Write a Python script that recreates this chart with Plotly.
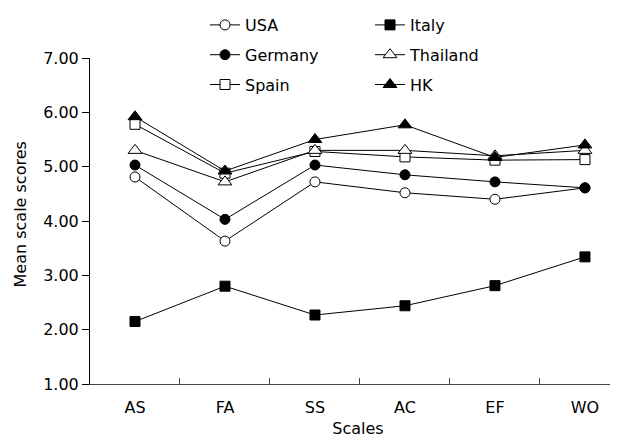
import plotly.graph_objects as go

scales = ["AS", "FA", "SS", "AC", "EF", "WO"]
usa = [4.81, 3.63, 4.72, 4.52, 4.40, 4.61]
germany = [5.03, 4.03, 5.03, 4.85, 4.72, 4.61]
spain = [5.78, 4.88, 5.28, 5.18, 5.12, 5.13]
italy = [2.15, 2.80, 2.27, 2.44, 2.81, 3.34]
thailand = [5.30, 4.72, 5.30, 5.30, 5.20, 5.30]
hk = [5.92, 4.92, 5.50, 5.77, 5.17, 5.40]

y_ticks = [1, 2, 3, 4, 5, 6, 7]
y_tick_text = ["1.00", "2.00", "3.00", "4.00", "5.00", "6.00", "7.00"]

FONT = "DejaVu Sans"
FS = 16

series = [
    ("USA", usa, "circle", "white", "legend", 10),
    ("Germany", germany, "circle", "black", "legend", 10),
    ("Spain", spain, "square", "white", "legend", 10),
    ("Italy", italy, "square", "black", "legend2", 10),
    ("Thailand", thailand, "triangle-up", "white", "legend2", 12),
    ("HK", hk, "triangle-up", "black", "legend2", 12),
]

fig = go.Figure()
for name, vals, sym, fill, leg, size in series:
    fig.add_trace(go.Scatter(
        x=scales, y=vals, name=name, mode="lines+markers",
        line=dict(color="black", width=1),
        marker=dict(symbol=sym, size=size, color=fill,
                    line=dict(color="black", width=1)),
        legend=leg, legendgroup=name,
    ))

legend_common = dict(
    font=dict(family=FONT, size=FS, color="black"),
    bgcolor="rgba(0,0,0,0)", tracegroupgap=6,
    xref="container", yref="container",
    xanchor="left", yanchor="top", itemwidth=30,
)

fig.update_layout(
    width=618, height=441,
    margin=dict(l=82, r=0, t=50, b=65, pad=0, autoexpand=False),
    paper_bgcolor="white", plot_bgcolor="white",
    font=dict(family=FONT, size=FS, color="black"),
    showlegend=True,
    legend=dict(x=197 / 618, y=1.005, **legend_common),
    legend2=dict(x=362 / 618, y=1.005, **legend_common),
    xaxis=dict(
        type="category", range=[-0.5, 5.456],
        tickson="boundaries", ticks="inside", ticklen=6, tickcolor="#444",
        showline=True, linecolor="#444", linewidth=1,
        showgrid=False, zeroline=False, tickangle=0,
        ticklabelstandoff=9,
        tickfont=dict(family=FONT, size=FS, color="black"),
        title=dict(text="Scales", font=dict(family=FONT, size=FS, color="black"), standoff=6),
    ),
    yaxis=dict(
        range=[1, 7], tickvals=y_ticks, ticktext=y_tick_text,
        ticks="outside", ticklen=7, tickcolor="black",
        showline=True, linecolor="black", linewidth=1,
        showgrid=False, zeroline=False,
        tickfont=dict(family=FONT, size=FS, color="black"),
    ),
    annotations=[dict(
        text="Mean scale scores", textangle=-90, showarrow=False,
        xref="paper", yref="paper", x=(12 - 82) / 536, y=0.52,
        xanchor="center", yanchor="middle",
        font=dict(family=FONT, size=FS, color="black"),
    )],
)

fig.write_html("out.html")
